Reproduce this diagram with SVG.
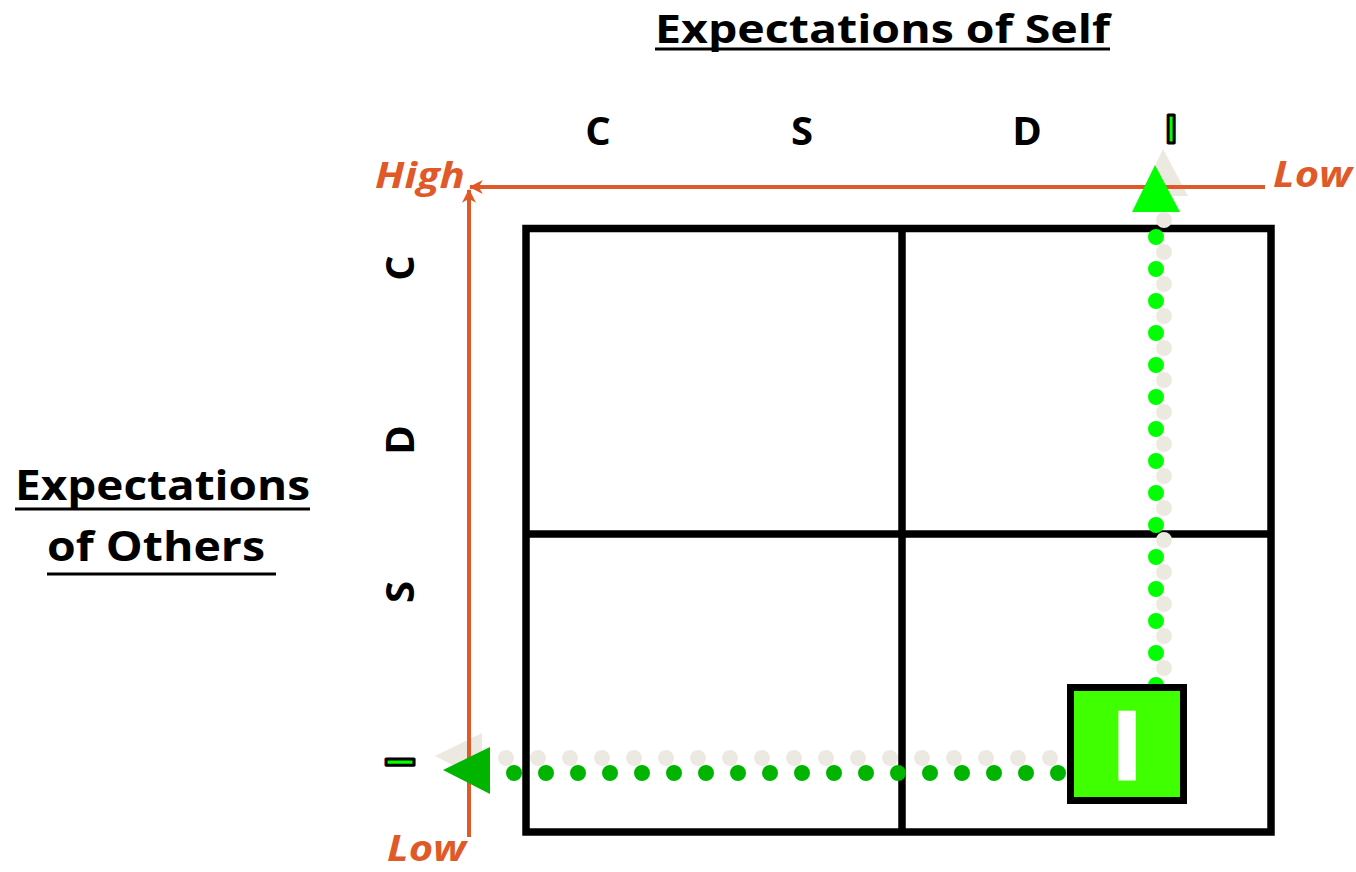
<svg xmlns="http://www.w3.org/2000/svg" width="1356" height="872" viewBox="0 0 1356 872">
<style>
.lbl{font-family:"Open Sans","Liberation Sans",sans-serif;font-weight:bold;fill:#000}
.org{font-family:"Open Sans","Liberation Sans",sans-serif;font-weight:bold;font-style:italic;fill:#DF5A28;font-size:36px}
.ax{stroke:#DF5A28;stroke-width:4;fill:none}
.grid{fill:none;stroke:#000;stroke-width:7.5}
.dot{fill:none;stroke-width:16;stroke-linecap:round;stroke-dasharray:0 32}
.ul{stroke:#000;stroke-width:3}
</style>
<defs>
<marker id="ah" viewBox="0 0 12 12" refX="11" refY="6" markerWidth="14" markerHeight="14" markerUnits="userSpaceOnUse" orient="auto">
<path d="M0,0 L12,6 L0,12 L3.5,6 z" fill="#DF5A28"/>
</marker>
</defs>
<rect width="1356" height="872" fill="#fff"/>
<g id="titles">
<text class="lbl" x="655" y="43" font-size="40" textLength="455" lengthAdjust="spacingAndGlyphs">Expectations of Self</text>
<line class="ul" x1="655" y1="49" x2="1110" y2="49"/>
<text class="lbl" x="15" y="500" font-size="42" textLength="295" lengthAdjust="spacingAndGlyphs">Expectations</text>
<line class="ul" x1="15" y1="509" x2="310" y2="509"/>
<text class="lbl" x="47" y="561" font-size="42" textLength="218" lengthAdjust="spacingAndGlyphs">of Others</text>
<line class="ul" x1="47" y1="574" x2="276" y2="574"/>
</g>
<g id="top-letters" class="lbl" font-size="40" text-anchor="middle">
<text x="598" y="145">C</text>
<text x="802" y="145">S</text>
<text x="1027" y="145">D</text>
<text x="1171" y="143" stroke="#000" stroke-width="3" stroke-linejoin="round" style="fill:#00FF00">I</text>
</g>
<g id="left-letters" class="lbl" font-size="40" text-anchor="middle">
<text transform="translate(414,268) rotate(-90)">C</text>
<text transform="translate(414,440) rotate(-90)">D</text>
<text transform="translate(414,592) rotate(-90)">S</text>
<text transform="translate(414,762) rotate(-90)" stroke="#000" stroke-width="3" stroke-linejoin="round" style="fill:#00FF00">I</text>
</g>
<g id="grid">
<rect class="grid" x="526" y="228.5" width="745" height="603.5"/>
<line class="grid" x1="902" y1="228" x2="902" y2="832"/>
<line class="grid" x1="526" y1="534" x2="1271" y2="534"/>
</g>
<g id="connectors">
<line class="dot" x1="1164" y1="220" x2="1164" y2="669" stroke="#ECE9E0"/>
<line class="dot" x1="506" y1="758" x2="1051" y2="758" stroke="#ECE9E0"/>
<polygon points="1163,149 1140,196 1188,196" fill="#ECE9E0"/>
<polygon points="435,756 482,733 482,780" fill="#ECE9E0"/>
<line class="ax" x1="1265" y1="187" x2="470" y2="187" marker-end="url(#ah)"/>
<line class="ax" x1="469" y1="837" x2="469" y2="190" marker-end="url(#ah)"/>
<line class="dot" x1="1156" y1="237" x2="1156" y2="686" stroke="#00FF00"/>
<line class="dot" x1="514" y1="773" x2="1059" y2="773" stroke="#00B400"/>
<polygon points="1155,165 1132,212 1180,212" fill="#00FF00"/>
<polygon points="443,770 490,747 490,794" fill="#00B400"/>
</g>
<g id="axis-labels">
<text class="org" x="375" y="188" textLength="90" lengthAdjust="spacingAndGlyphs">High</text>
<text class="org" x="1273" y="187" textLength="79" lengthAdjust="spacingAndGlyphs">Low</text>
<text class="org" x="387" y="861" font-size="35" textLength="79" lengthAdjust="spacingAndGlyphs">Low</text>
</g>
<g id="node-I">
<rect x="1070.5" y="687.5" width="113" height="113" fill="#40FF00" stroke="#000" stroke-width="7"/>
<text x="1127" y="779" font-family="Open Sans, Liberation Sans, sans-serif" font-weight="bold" font-size="94" text-anchor="middle" fill="#fff" stroke="#fff" stroke-width="3">I</text>
</g>
</svg>
